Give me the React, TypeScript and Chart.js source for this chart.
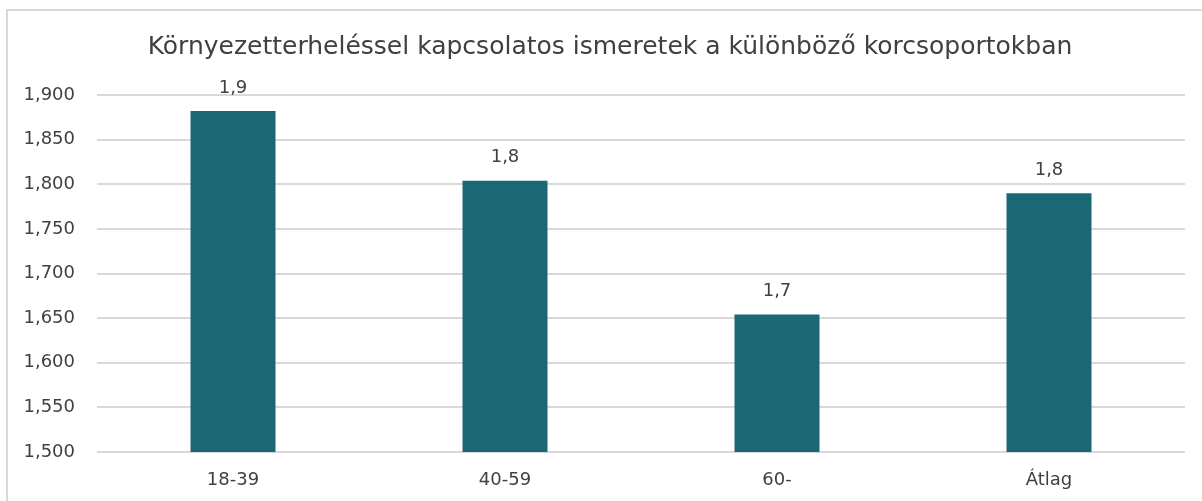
import React, { useEffect, useRef } from "react";
import { Chart, registerables } from "chart.js";

Chart.register(...registerables);

const TITLE = "Környezetterheléssel kapcsolatos ismeretek a különböző korcsoportokban";
const categories = ["18-39", "40-59", "60-", "Átlag"];
const values = [1.882, 1.804, 1.654, 1.79];
const valueLabels = ["1,9", "1,8", "1,7", "1,8"];
const yMin = 1.5;
const yMax = 1.9;
const yStep = 0.05;

const FONT = "'DejaVu Sans', sans-serif";
const TEXT = "#404040";
const BAR = "#1b6875";
const GRID = "#d9d9d9";

export default function App() {
  const ref = useRef<HTMLCanvasElement | null>(null);

  useEffect(() => {
    document.body.style.margin = "0";
    const canvas = ref.current!;
    const framePlugin = {
      id: "frame",
      beforeDraw(chart: any) {
        const ctx = chart.ctx;
        ctx.save();
        ctx.fillStyle = "#ffffff";
        ctx.fillRect(0, 0, chart.width, chart.height);
        ctx.strokeStyle = "#d9d9d9";
        ctx.lineWidth = 2;
        ctx.strokeRect(7, 10, chart.width + 50, chart.height + 50);
        ctx.fillStyle = TEXT;
        ctx.font = `25px ${FONT}`;
        ctx.textAlign = "center";
        ctx.textBaseline = "middle";
        ctx.fillText(TITLE, 610, 47);
        ctx.restore();
      },
      afterDatasetsDraw(chart: any) {
        const ctx = chart.ctx;
        const meta = chart.getDatasetMeta(0);
        ctx.save();
        ctx.fillStyle = TEXT;
        ctx.font = `18px ${FONT}`;
        ctx.textAlign = "center";
        ctx.textBaseline = "middle";
        meta.data.forEach((bar: any, i: number) => {
          ctx.fillText(valueLabels[i], bar.x, bar.y - 23);
        });
        ctx.restore();
      },
    };

    const chart = new Chart(canvas, {
      type: "bar",
      data: {
        labels: categories,
        datasets: [
          {
            data: values,
            backgroundColor: BAR,
            borderWidth: 0,
            categoryPercentage: 1,
            barPercentage: 0.3125,
          },
        ],
      },
      options: {
        animation: false,
        responsive: false,
        maintainAspectRatio: false,
        layout: { padding: { top: 95, left: 0, right: 17, bottom: 0 } },
        plugins: {
          legend: { display: false },
          title: { display: false },
          tooltip: { enabled: false },
        },
        scales: {
          x: {
            grid: { display: false, drawTicks: false },
            border: { display: false },
            ticks: {
              color: TEXT,
              font: { family: FONT, size: 18 },
              padding: 18,
            },
            afterFit(scale: any) {
              scale.height = 49;
            },
          },
          y: {
            min: yMin,
            max: yMax,
            grid: { color: GRID, lineWidth: 2, drawTicks: false },
            border: { display: false },
            ticks: {
              stepSize: yStep,
              color: TEXT,
              font: { family: FONT, size: 18 },
              padding: 22,
              callback: (v: any) => Number(v).toFixed(3).replace(".", ","),
            },
            afterFit(scale: any) {
              scale.width = 97;
            },
          },
        },
      },
      plugins: [framePlugin],
    });
    return () => chart.destroy();
  }, []);

  return (
    <div style={{ position: "absolute", left: 0, top: 0, width: 1202, height: 501 }}>
      <canvas ref={ref} width={1202} height={501} style={{ display: "block" }} />
    </div>
  );
}
